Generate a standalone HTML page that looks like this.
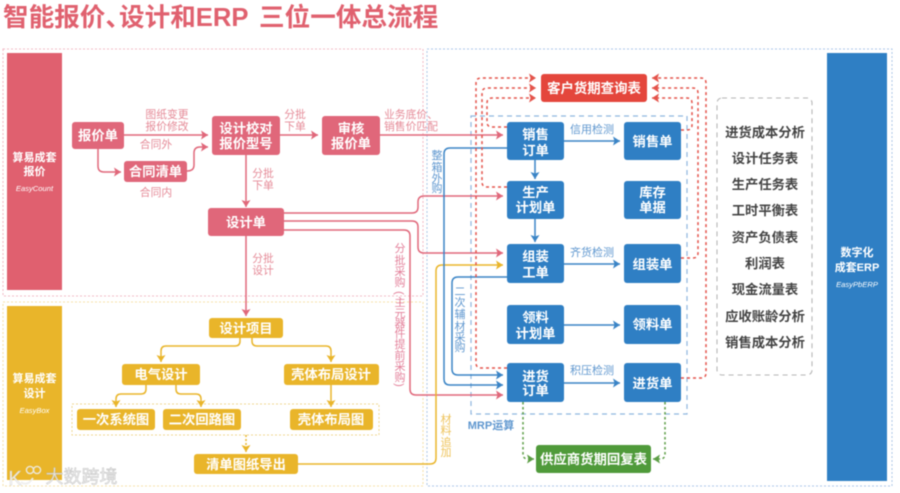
<!DOCTYPE html>
<html><head><meta charset="utf-8">
<style>
html,body{margin:0;padding:0;background:#fff;width:900px;height:493px;overflow:hidden}
svg{display:block;filter:blur(.4px)}
text{font-family:"Liberation Sans","Noto Sans CJK SC",sans-serif;text-anchor:middle;font-weight:700}
.w{fill:#fff;font-size:13.3px}
.s{fill:#fff;font-size:11px}
.e{fill:#fff;font-size:7.6px;font-style:italic;font-weight:400}
.n{fill:#fff;font-size:13.4px}
.p{fill:#e58a97;font-size:10.8px;font-weight:400}
.v{fill:#e3809a;font-size:11px;font-weight:400}
.b{fill:#5f97cf;font-size:11px;font-weight:400}
.y{fill:#eec35a;font-size:11px;font-weight:400}
.t{fill:#444;font-size:13.3px}
.ti{fill:#e0616f;font-size:25.6px;text-anchor:start}
.l{fill:none;stroke-width:1.5}
</style></head><body>
<svg width="900" height="493" viewBox="0 0 900 493" xmlns="http://www.w3.org/2000/svg">
<defs>
<marker id="mp" markerWidth="8" markerHeight="9" refX="7" refY="4.5" orient="auto" markerUnits="userSpaceOnUse"><path d="M0 0L7 4.5L0 9L1.5 4.5Z" fill="#e0677a"/></marker>
<marker id="my" markerWidth="8" markerHeight="9" refX="7" refY="4.5" orient="auto" markerUnits="userSpaceOnUse"><path d="M0 0L7 4.5L0 9L1.5 4.5Z" fill="#e9b52a"/></marker>
<marker id="mb" markerWidth="8" markerHeight="9" refX="7" refY="4.5" orient="auto" markerUnits="userSpaceOnUse"><path d="M0 0L7 4.5L0 9L1.5 4.5Z" fill="#3a84c6"/></marker>
<marker id="mr" markerWidth="8" markerHeight="9" refX="7" refY="4.5" orient="auto" markerUnits="userSpaceOnUse"><path d="M0 0L7 4.5L0 9L1.5 4.5Z" fill="#e4534a"/></marker>
<marker id="mg" markerWidth="8" markerHeight="9" refX="7" refY="4.5" orient="auto" markerUnits="userSpaceOnUse"><path d="M0 0L7 4.5L0 9L1.5 4.5Z" fill="#5c9e45"/></marker>
</defs>

<text class="ti" x="3" y="26">智能报价、</text>
<text class="ti" x="119" y="26">设计和ERP</text>
<text class="ti" x="259" y="26">三位一体总流程</text>

<!-- frames -->
<rect x="3" y="49" width="420" height="247" fill="none" stroke="#f3b8c4" stroke-width="1" stroke-dasharray="2 2"/>
<rect x="3" y="302" width="420" height="184" fill="none" stroke="#f6dfa6" stroke-width="1" stroke-dasharray="2 2"/>
<rect x="427" y="49" width="465" height="437" fill="none" stroke="#a9c6e8" stroke-width="1" stroke-dasharray="2 2"/>

<!-- side bands -->
<rect x="7" y="53" width="55" height="237" fill="#e0606f"/>
<rect x="7" y="306" width="55" height="174" fill="#e9b52a"/>
<rect x="827" y="53" width="60" height="428" fill="#2f7fc4"/>
<text class="s" x="34.5" y="161">算易成套</text>
<text class="s" x="34.5" y="175">报价</text>
<text class="e" x="34.5" y="191">EasyCount</text>
<text class="s" x="34.5" y="382">算易成套</text>
<text class="s" x="34.5" y="397">设计</text>
<text class="e" x="34.5" y="413">EasyBox</text>
<text class="s" x="857" y="256">数字化</text>
<text class="s" x="857" y="271">成套ERP</text>
<text class="e" x="857" y="287">EasyPbERP</text>

<!-- MRP dashed, report dashed -->
<rect x="471" y="116" width="216" height="298" fill="none" stroke="#8fb6de" stroke-width="1.2" stroke-dasharray="5 4"/>
<rect x="717" y="98" width="95" height="277" rx="5" fill="none" stroke="#b5b5b5" stroke-width="1.1" stroke-dasharray="5 4"/>
<rect x="72" y="404" width="307" height="31" fill="none" stroke="#efd68e" stroke-width="1" stroke-dasharray="2 2"/>

<!-- pink connectors -->
<g class="l" stroke="#e0677a">
<path d="M124 135H208" marker-end="url(#mp)"/>
<path d="M187 171Q194 171 194 165V153Q194 147 200 147H208" marker-end="url(#mp)"/>
<path d="M98 149V166Q98 172 104 172H121" marker-end="url(#mp)"/>
<path d="M280 135H318" marker-end="url(#mp)"/>
<path d="M246 155V207" marker-end="url(#mp)"/>
<path d="M246 236V316" marker-end="url(#mp)"/>
<path d="M380 135H503" marker-end="url(#mp)"/>
<path d="M284 213H412Q418 213 418 207V202Q418 196 424 196H503" marker-end="url(#mp)"/>
<path d="M284 221H412Q418 221 418 227V247Q418 253 424 253H503" marker-end="url(#mp)"/>
<path d="M284 230H404Q410 230 410 236V389Q410 395 416 395H503" marker-end="url(#mp)"/>
</g>
<!-- yellow connectors -->
<g class="l" stroke="#e9b52a">
<path d="M240 338V341Q240 346 235 346H166Q161 346 161 351V362" marker-end="url(#my)"/>
<path d="M252 338V341Q252 346 257 346H326Q331 346 331 351V362" marker-end="url(#my)"/>
<path d="M146 385V389Q146 394 141 394H121Q116 394 116 399V407" marker-end="url(#my)"/>
<path d="M176 385V389Q176 394 181 394H196Q201 394 201 399V407" marker-end="url(#my)"/>
<path d="M331 385V407" marker-end="url(#my)"/>
<path d="M246 435V452" stroke-dasharray="2 2" marker-end="url(#my)"/>
<path d="M298 464H430Q436 464 436 458V271Q436 265 442 265H503" marker-end="url(#my)"/>
</g>
<!-- blue connectors -->
<g class="l" stroke="#3a84c6">
<path d="M507 148H450Q444 148 444 154V379Q444 385 450 385H503" marker-end="url(#mb)"/>
<path d="M507 277H458Q452 277 452 283V369Q452 375 458 375H503" marker-end="url(#mb)"/>
<path d="M564 141H620" marker-end="url(#mb)"/>
<path d="M535 160V179" marker-end="url(#mb)"/>
<path d="M535 219V242" marker-end="url(#mb)"/>
<path d="M564 264H620" marker-end="url(#mb)"/>
<path d="M564 325H620" marker-end="url(#mb)"/>
<path d="M564 383H620" marker-end="url(#mb)"/>
</g>
<!-- red dashed -->
<g class="l" stroke="#e4534a" stroke-dasharray="3 3">
<path d="M507 368H481Q476 368 476 363V83Q476 78 481 78H536" marker-end="url(#mr)"/>
<path d="M507 187H487Q482 187 482 182V93Q482 88 487 88H536" marker-end="url(#mr)"/>
<path d="M507 127H492Q487 127 487 122V103Q487 98 492 98H536" marker-end="url(#mr)"/>
<path d="M681 378H701Q706 378 706 373V83Q706 78 701 78H652" marker-end="url(#mr)"/>
<path d="M681 258H693Q698 258 698 253V93Q698 88 693 88H652" marker-end="url(#mr)"/>
<path d="M681 130H687Q692 130 692 125V103Q692 98 687 98H652" marker-end="url(#mr)"/>
</g>
<!-- green dashed -->
<g class="l" stroke="#5c9e45" stroke-dasharray="2.5 2.5">
<path d="M523 402V454Q523 459 528 459H534" marker-end="url(#mg)"/>
<path d="M665 402V454Q665 459 660 459H653" marker-end="url(#mg)"/>
</g>

<!-- pink nodes -->
<g fill="#e0677a">
<rect x="72" y="122" width="52" height="27" rx="3"/>
<rect x="124" y="161" width="63" height="21" rx="3"/>
<rect x="212" y="116" width="68" height="39" rx="3"/>
<rect x="322" y="116" width="58" height="39" rx="3"/>
<rect x="208" y="208" width="76" height="28" rx="3"/>
</g>
<text class="w" x="98" y="140">报价单</text>
<text class="w" x="155.5" y="176">合同清单</text>
<text class="w" x="246" y="133">设计校对</text>
<text class="w" x="246" y="148">报价型号</text>
<text class="w" x="351" y="133">审核</text>
<text class="w" x="351" y="148">报价单</text>
<text class="w" x="246" y="227">设计单</text>

<!-- yellow nodes -->
<g fill="#e9b52a">
<rect x="209" y="318" width="74" height="20" rx="3"/>
<rect x="122" y="364" width="78" height="21" rx="3"/>
<rect x="284" y="364" width="95" height="21" rx="3"/>
<rect x="77" y="409" width="78" height="21" rx="3"/>
<rect x="163" y="409" width="78" height="21" rx="3"/>
<rect x="290" y="409" width="83" height="21" rx="3"/>
<rect x="194" y="454" width="104" height="20" rx="3"/>
</g>
<text class="w" x="246" y="333">设计项目</text>
<text class="w" x="161" y="379">电气设计</text>
<text class="w" x="331" y="379">壳体布局设计</text>
<text class="w" x="116" y="424">一次系统图</text>
<text class="w" x="202" y="424">二次回路图</text>
<text class="w" x="331" y="424">壳体布局图</text>
<text class="w" x="246" y="469">清单图纸导出</text>

<!-- blue nodes -->
<g fill="#2f7fc4">
<rect x="507" y="122" width="57" height="38" rx="3"/>
<rect x="624" y="122" width="57" height="38" rx="3"/>
<rect x="507" y="181" width="57" height="38" rx="3"/>
<rect x="624" y="181" width="57" height="38" rx="3"/>
<rect x="507" y="244" width="57" height="39" rx="3"/>
<rect x="624" y="244" width="57" height="39" rx="3"/>
<rect x="507" y="305" width="57" height="39" rx="3"/>
<rect x="624" y="305" width="57" height="39" rx="3"/>
<rect x="507" y="363" width="57" height="39" rx="3"/>
<rect x="624" y="363" width="57" height="39" rx="3"/>
</g>
<text class="w" x="535.5" y="139">销售</text><text class="w" x="535.5" y="155">订单</text>
<text class="w" x="652.5" y="146">销售单</text>
<text class="w" x="535.5" y="197">生产</text><text class="w" x="535.5" y="212">计划单</text>
<text class="w" x="652.5" y="197">库存</text><text class="w" x="652.5" y="212">单据</text>
<text class="w" x="535.5" y="261">组装</text><text class="w" x="535.5" y="277">工单</text>
<text class="w" x="652.5" y="269">组装单</text>
<text class="w" x="535.5" y="322">领料</text><text class="w" x="535.5" y="338">计划单</text>
<text class="w" x="652.5" y="329">领料单</text>
<text class="w" x="535.5" y="381">进货</text><text class="w" x="535.5" y="395">订单</text>
<text class="w" x="652.5" y="388">进货单</text>

<rect x="541" y="74" width="106" height="28" rx="3" fill="#e4463c"/>
<text class="n" x="594" y="93">客户货期查询表</text>
<rect x="536" y="445" width="115" height="28" rx="3" fill="#4f9a3a"/>
<text class="n" x="593.5" y="464">供应商货期回复表</text>

<!-- pink labels -->
<text class="p" x="167" y="118">图纸变更</text>
<text class="p" x="167" y="130">报价修改</text>
<text class="p" x="156" y="148">合同外</text>
<text class="p" x="156" y="196">合同内</text>
<text class="p" x="295" y="118">分批</text>
<text class="p" x="295" y="130">下单</text>
<text class="p" x="384" y="118" style="text-anchor:start">业务底价、</text>
<text class="p" x="384" y="130" style="text-anchor:start">销售价匹配</text>
<text class="p" x="263" y="177">分批</text>
<text class="p" x="263" y="189">下单</text>
<text class="p" x="263" y="262">分批</text>
<text class="p" x="263" y="274">设计</text>

<text class="v" x="400" y="252">分</text><text class="v" x="400" y="264">批</text><text class="v" x="400" y="275">采</text><text class="v" x="400" y="286">购</text>
<text class="v" x="400" y="297" transform="rotate(90 400 293)">(</text>
<text class="v" x="400" y="306">主</text><text class="v" x="400" y="317">元</text><text class="v" x="400" y="327">器</text><text class="v" x="400" y="337">件</text><text class="v" x="400" y="348">提</text><text class="v" x="400" y="359">前</text><text class="v" x="400" y="370">采</text><text class="v" x="400" y="381">购</text>
<text class="v" x="400" y="389" transform="rotate(90 400 385)">)</text>

<!-- blue labels -->
<text class="b" x="592" y="133">信用检测</text>
<text class="b" x="592" y="256">齐货检测</text>
<text class="b" x="592" y="374">积压检测</text>
<text class="b" x="491" y="429" style="font-weight:700">MRP运算</text>
<text class="b" x="437" y="159">整</text><text class="b" x="437" y="171">箱</text><text class="b" x="437" y="182">外</text><text class="b" x="437" y="192">购</text>
<text class="b" x="460" y="295">二</text><text class="b" x="460" y="306">次</text><text class="b" x="460" y="318">辅</text><text class="b" x="460" y="330">材</text><text class="b" x="460" y="341">采</text><text class="b" x="460" y="351">购</text>
<!-- yellow label -->
<text class="y" x="446" y="423">材</text><text class="y" x="446" y="434">料</text><text class="y" x="446" y="446">追</text><text class="y" x="446" y="456">加</text>

<!-- report list -->
<text class="t" x="765" y="137">进货成本分析</text>
<text class="t" x="765" y="163">设计任务表</text>
<text class="t" x="765" y="189">生产任务表</text>
<text class="t" x="765" y="215">工时平衡表</text>
<text class="t" x="765" y="242">资产负债表</text>
<text class="t" x="765" y="268">利润表</text>
<text class="t" x="765" y="294">现金流量表</text>
<text class="t" x="765" y="321">应收账龄分析</text>
<text class="t" x="765" y="347">销售成本分析</text>

<!-- watermark -->
<g opacity=".9">
<text x="15" y="485" fill="#f3f3f3" stroke="#cfcfcf" stroke-width=".4" style="font-size:20px;font-weight:400">K</text>
<circle cx="30" cy="470" r="3.6" fill="none" stroke="#eee" stroke-width="1.4"/>
<circle cx="37" cy="470" r="3.6" fill="none" stroke="#eee" stroke-width="1.4"/>
<path d="M21 482Q27 487 33 478" fill="none" stroke="#eee" stroke-width="2"/>
<text x="81.5" y="483" fill="#ececec" stroke="#b5b5b5" stroke-width=".4" style="font-size:18px;font-weight:400">大数跨境</text>
</g>
</svg>
</body></html>
